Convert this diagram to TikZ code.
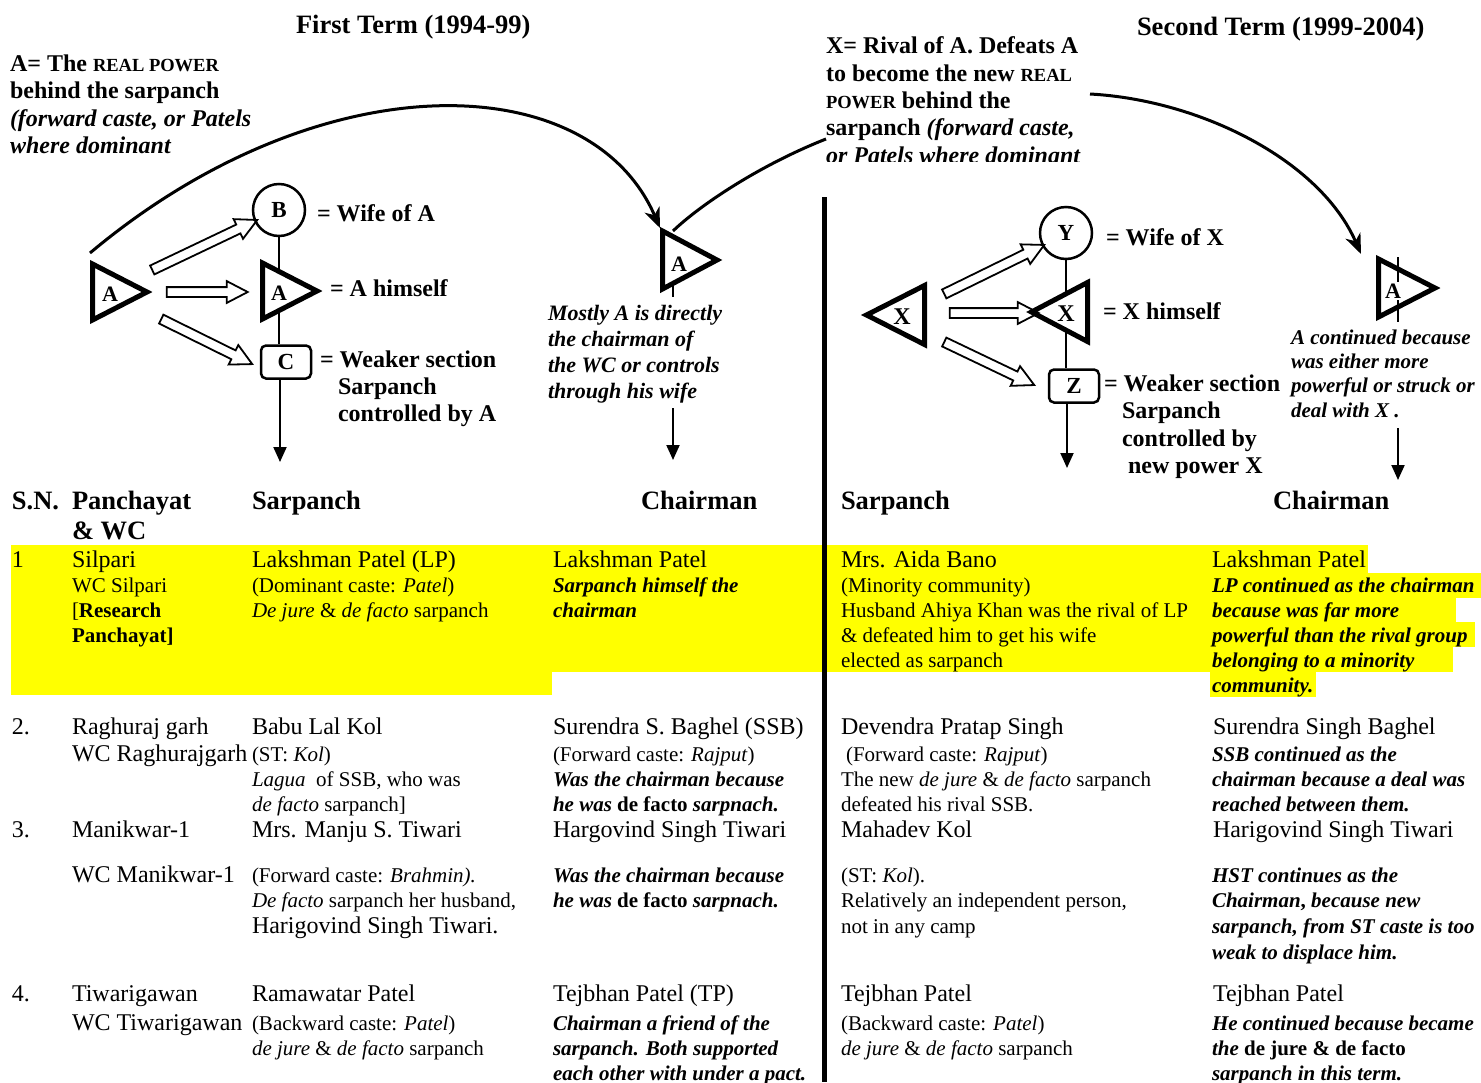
\documentclass[tikz,border=0pt]{standalone}
\usepackage{fontspec}
\setmainfont{Liberation Serif}
\usetikzlibrary{arrows.meta,shapes.arrows,calc}
\definecolor{hl}{RGB}{255,255,0}
\newcommand{\fbig}{\fontsize{24}{27}\selectfont}
\newcommand{\fsm}{\fontsize{21}{24}\selectfont}
\newcommand{\fhd}{\fontsize{26.5}{30}\selectfont\bfseries}
\newcommand{\fdg}{\fontsize{24}{27.5}\selectfont\bfseries}
\newcommand{\fsc}[1]{{\fontsize{18.5}{20}\selectfont #1}}
\newcommand{\myBI}{\bfseries\itshape}
\newcommand{\rtri}[4]{\draw[tri] (#1,#2-#3) -- (#1+#4,#2) -- (#1,#2+#3) -- cycle;}
\newcommand{\harrow}[3]{\path let \p1=(#2), \p2=(#3), \n1={atan2(\y2-\y1,\x2-\x1)}, \n2={veclen(\x2-\x1,\y2-\y1)} in node[hollow,minimum height=\n2,rotate=\n1] (#1) at ($(#2)!0.5!(#3)$) {};}
\begin{document}
\begin{tikzpicture}[x=1pt,y=-1pt,
  tl/.style={anchor=base west,inner sep=0pt,outer sep=0pt},
  tri/.style={line width=5pt,line join=miter,fill=white},
  lab/.style={inner sep=0pt,font=\fontsize{22}{22}\selectfont\bfseries},
  hollow/.style={single arrow,draw,line width=1.8pt,inner xsep=0pt,inner ysep=4pt,single arrow head extend=6pt,single arrow tip angle=55},
  vline/.style={line width=2pt},
  down/.style={line width=2pt,-{Triangle[length=15pt,width=13pt]}},
  curve/.style={line width=3pt},
  curvearr/.style={line width=3pt,-{Stealth[length=20pt,width=16pt,inset=6pt]}},
  ring/.style={circle,draw,line width=2.5pt,minimum size=52pt,inner sep=0pt,fill=white,font=\fontsize{23}{23}\selectfont\bfseries},
  sbox/.style={draw,rounded corners=5pt,line width=2.5pt,minimum width=50pt,minimum height=33pt,inner sep=0pt,fill=white,font=\fontsize{23}{23}\selectfont\bfseries}
]
\useasboundingbox (0,0) rectangle (1481,1082);

% yellow highlights
\fill[hl] (11,545) rectangle (824,672);
\fill[hl] (11,672) rectangle (552,695);
\fill[hl] (824,545) rectangle (1210,672);
\fill[hl] (1210,545) rectangle (1368,573);
\fill[hl] (1210,573) rectangle (1481,598);
\fill[hl] (1210,598) rectangle (1456,622);
\fill[hl] (1210,622) rectangle (1475,647);
\fill[hl] (1210,647) rectangle (1453,672);
\fill[hl] (1210,672) rectangle (1316,697);

% divider
\coordinate (divtop) at (824,197);
\coordinate (divbot) at (824,1082);
\draw[line width=5pt] (divtop) -- (divbot);

% ---------- first term diagram ----------
\node[ring] (B) at (279,210) {B};
\node[sbox] (C) at (286,362) {C};
\draw[vline] (B.south) -- (B.south |- C.north);
\coordinate (Cd) at (280,462);
\draw[down] (C.south -| Cd) -- (Cd);

\rtri{92.5}{292}{28}{54.5}
\node[lab] (Aleft) at (110,294) {A};
\rtri{262.5}{291}{28}{54.5}
\node[lab] (Aself) at (279,293) {A};

\coordinate (h1s) at (148,272); \coordinate (h1e) at (253,222);
\coordinate (h2s) at (162,292); \coordinate (h2e) at (243,292);
\coordinate (h3s) at (157,317); \coordinate (h3e) at (248,362);
\harrow{ha1}{h1s}{h1e}
\harrow{ha2}{h2s}{h2e}
\harrow{ha3}{h3s}{h3e}

% chairman A (first term)
\coordinate (A1low) at (673,297);
\draw[vline] (673,280) -- (A1low);
\rtri{662.5}{260}{29}{54.5}
\node[lab] (Achair) at (679,264) {A};
\coordinate (A1d1) at (673,408);
\coordinate (A1d2) at (673,460);
\draw[down] (A1d1) -- (A1d2);

% ---------- second term diagram ----------
\node[ring] (Y) at (1066,233) {Y};
\node[sbox] (Z) at (1074,386) {Z};
\draw[vline] (Y.south) -- (Y.south |- Z.north);
\coordinate (Zd) at (1067,468);
\draw[down] (Z.south -| Zd) -- (Zd);

\rtri{924.5}{315}{29.5}{-58}
\node[lab,font=\fontsize{24}{24}\selectfont\bfseries] (Xleft) at (902,317) {X};
\rtri{1087.5}{312}{29.5}{-56}
\node[lab,font=\fontsize{24}{24}\selectfont\bfseries] (Xself) at (1066,314) {X};

\coordinate (k1s) at (940,296); \coordinate (k1e) at (1040,247);
\coordinate (k2s) at (945,313); \coordinate (k2e) at (1034,313);
\coordinate (k3s) at (940,340); \coordinate (k3e) at (1030,383);
\harrow{xa1}{k1s}{k1e}
\harrow{xa2}{k2s}{k2e}
\harrow{xa3}{k3s}{k3e}

% chairman A (second term)
\rtri{1378.5}{288}{29}{56.5}
\coordinate (A2t) at (1398,257);
\coordinate (A2b) at (1398,322);
\draw[vline] (A2t) -- (A2b);
\node[lab,fill=white,inner sep=2pt] (Achair2) at (1393,291) {A};
\coordinate (A2d1) at (1398,428);
\coordinate (A2d2) at (1398,480);
\draw[down] (A2d1) -- (A2d2);

% ---------- curves ----------
\coordinate (c1s) at (90,253);
\coordinate (c1e) at (660,228);
\draw[curvearr] (c1s) .. controls (320,60) and (590,66) .. (c1e);
\coordinate (c2s) at (673,231);
\coordinate (c2e) at (826,139);
\draw[curve] (c2s) .. controls (700,205) and (760,165) .. (c2e);
\coordinate (c3s) at (1090,94);
\coordinate (c3e) at (1361,254);
\draw[curvearr] (c3s) .. controls (1200,100) and (1320,160) .. (c3e);

% ---------- titles ----------
\node[tl] (title1) at (296,33) {\fhd First Term (1994-99)};
\node[tl] (title2) at (1137,35) {\fhd Second Term (1999-2004)};

% A definition
\node[tl] (ad1) at (10,71) {\fdg A= The \fsc{REAL POWER}};
\node[tl] (ad2) at (10,98) {\fdg behind the sarpanch};
\node[tl] (ad3) at (10,126) {\fdg\itshape (forward caste, or Patels};
\node[tl] (ad4) at (10,153) {\fdg\itshape where dominant};

% X definition (clipped last line)
\begin{scope}
\clip (800,0) rectangle (1110,161);
\node[tl] (xd1) at (826,53) {\fdg X= Rival of A. Defeats A};
\node[tl] (xd2) at (826,81) {\fdg to become the new \fsc{REAL}};
\node[tl] (xd3) at (826,108) {\fdg \fsc{POWER} behind the};
\node[tl] (xd4) at (826,135) {\fdg sarpanch \itshape (forward caste,};
\node[tl] (xd5) at (826,163) {\fdg\itshape or Patels where dominant};
\end{scope}

% diagram labels, first term
\node[tl] (lb1) at (317,221) {\fdg = Wife of A};
\node[tl] (lb2) at (330,296) {\fdg = A himself};
\node[tl] (lb3) at (320,367) {\fdg = Weaker section};
\node[tl] (lb4) at (338,394) {\fdg Sarpanch};
\node[tl] (lb5) at (338,421) {\fdg controlled by A};
\node[tl] (ms1) at (548,320) {\fontsize{22}{26}\selectfont\myBI Mostly A is directly};
\node[tl] (ms2) at (548,346) {\fontsize{22}{26}\selectfont\myBI the chairman of};
\node[tl] (ms3) at (548,372) {\fontsize{22}{26}\selectfont\myBI the WC or controls};
\node[tl] (ms4) at (548,398) {\fontsize{22}{26}\selectfont\myBI through his wife};

% diagram labels, second term
\node[tl] (lc1) at (1106,245) {\fdg = Wife of X};
\node[tl] (lc2) at (1103,319) {\fdg = X himself};
\node[tl] (lc3) at (1104,391) {\fdg = Weaker section};
\node[tl] (lc4) at (1122,418) {\fdg Sarpanch};
\node[tl] (lc5) at (1122,446) {\fdg controlled by};
\node[tl] (lc6) at (1128,473) {\fdg new power X};
\node[tl] (ac1) at (1291,344) {\fsm\myBI A continued because};
\node[tl] (ac2) at (1291,368) {\fsm\myBI was either more};
\node[tl] (ac3) at (1291,392) {\fsm\myBI powerful or struck or};
\node[tl] (ac4) at (1291,417) {\fsm\myBI deal with X .};

% ---------- table headers ----------
\node[tl] (hd1) at (12,509) {\fhd S.N.};
\node[tl] (hd2) at (72,509) {\fhd Panchayat};
\node[tl] (hd3) at (72,539) {\fhd \& WC};
\node[tl] (hd4) at (252,509) {\fhd Sarpanch};
\node[tl] (hd5) at (641,509) {\fhd Chairman};
\node[tl] (hd6) at (841,509) {\fhd Sarpanch};
\node[tl] (hd7) at (1273,509) {\fhd Chairman};

% ---------- row 1 ----------
\node[tl] (r1a) at (12,567) {\fbig 1};
\node[tl] (r1b1) at (72,567) {\fbig Silpari};
\node[tl] (r1b2) at (72,592) {\fsm WC Silpari};
\node[tl] (r1b3) at (72,617) {\fsm [\textbf{Research}};
\node[tl] (r1b4) at (72,642) {\fsm\bfseries Panchayat]};
\node[tl] (r1c1) at (252,567) {\fbig Lakshman Patel (LP)};
\node[tl] (r1c2) at (252,592) {\fsm (Dominant caste: \textit{Patel})};
\node[tl] (r1c3) at (252,617) {\fsm \textit{De jure} \& \textit{de facto} sarpanch};
\node[tl] (r1d1) at (553,567) {\fbig Lakshman Patel};
\node[tl] (r1d2) at (553,592) {\fsm\myBI Sarpanch himself the};
\node[tl] (r1d3) at (553,617) {\fsm\myBI chairman};
\node[tl] (r1e1) at (841,567) {\fbig Mrs. Aida Bano};
\node[tl] (r1e2) at (841,592) {\fsm (Minority community)};
\node[tl] (r1e3) at (841,617) {\fsm Husband Ahiya Khan was the rival of LP};
\node[tl] (r1e4) at (841,642) {\fsm \& defeated him to get his wife};
\node[tl] (r1e5) at (841,667) {\fsm elected as sarpanch};
\node[tl] (r1f1) at (1212,567) {\fbig Lakshman Patel};
\node[tl] (r1f2) at (1212,592) {\fsm\myBI LP continued as the chairman};
\node[tl] (r1f3) at (1212,617) {\fsm\myBI because was far more};
\node[tl] (r1f4) at (1212,642) {\fsm\myBI powerful than the rival group};
\node[tl] (r1f5) at (1212,667) {\fsm\myBI belonging to a minority};
\node[tl] (r1f6) at (1212,692) {\fsm\myBI community.};

% ---------- row 2 ----------
\node[tl] (r2a) at (12,734) {\fbig 2.};
\node[tl] (r2b1) at (72,734) {\fbig Raghuraj garh};
\node[tl] (r2b2) at (72,761) {\fbig WC Raghurajgarh};
\node[tl] (r2c1) at (252,734) {\fbig Babu Lal Kol};
\node[tl] (r2c2) at (252,761) {\fsm (ST: \textit{Kol})};
\node[tl] (r2c3) at (252,786) {\fsm \textit{Lagua}\ \ of SSB, who was};
\node[tl] (r2c4) at (252,811) {\fsm \textit{de facto} sarpanch]};
\node[tl] (r2d1) at (553,734) {\fbig Surendra S. Baghel (SSB)};
\node[tl] (r2d2) at (553,761) {\fsm (Forward caste: \textit{Rajput})};
\node[tl] (r2d3) at (553,786) {\fsm\myBI Was the chairman because};
\node[tl] (r2d4) at (553,811) {\fsm\myBI he was {\upshape de facto} sarpnach.};
\node[tl] (r2e1) at (841,734) {\fbig Devendra Pratap Singh};
\node[tl] (r2e2) at (846,761) {\fsm (Forward caste: \textit{Rajput})};
\node[tl] (r2e3) at (841,786) {\fsm The new \textit{de jure} \& \textit{de facto} sarpanch};
\node[tl] (r2e4) at (841,811) {\fsm defeated his rival SSB.};
\node[tl] (r2f1) at (1213,734) {\fbig Surendra Singh Baghel};
\node[tl] (r2f2) at (1212,761) {\fsm\myBI SSB continued as the};
\node[tl] (r2f3) at (1212,786) {\fsm\myBI chairman because a deal was};
\node[tl] (r2f4) at (1212,811) {\fsm\myBI reached between them.};

% ---------- row 3 ----------
\node[tl] (r3a) at (12,837) {\fbig 3.};
\node[tl] (r3b1) at (72,837) {\fbig Manikwar-1};
\node[tl] (r3b2) at (72,882) {\fbig WC Manikwar-1};
\node[tl] (r3c1) at (252,837) {\fbig Mrs. Manju S. Tiwari};
\node[tl] (r3c2) at (252,882) {\fsm (Forward caste: \textit{Brahmin).}};
\node[tl] (r3c3) at (252,907) {\fsm \textit{De facto} sarpanch her husband,};
\node[tl] (r3c4) at (252,933) {\fbig Harigovind Singh Tiwari.};
\node[tl] (r3d1) at (553,837) {\fbig Hargovind Singh Tiwari};
\node[tl] (r3d2) at (553,882) {\fsm\myBI Was the chairman because};
\node[tl] (r3d3) at (553,907) {\fsm\myBI he was {\upshape de facto} sarpnach.};
\node[tl] (r3e1) at (841,837) {\fbig Mahadev Kol};
\node[tl] (r3e2) at (841,882) {\fsm (ST: \textit{Kol}).};
\node[tl] (r3e3) at (841,907) {\fsm Relatively an independent person,};
\node[tl] (r3e4) at (841,933) {\fsm not in any camp};
\node[tl] (r3f1) at (1213,837) {\fbig Harigovind Singh Tiwari};
\node[tl] (r3f2) at (1212,882) {\fsm\myBI HST continues as the};
\node[tl] (r3f3) at (1212,907) {\fsm\myBI Chairman{\upshape ,} because new};
\node[tl] (r3f4) at (1212,933) {\fsm\myBI sarpanch, from ST caste is too};
\node[tl] (r3f5) at (1212,959) {\fsm\myBI weak to displace him.};

% ---------- row 4 ----------
\node[tl] (r4a) at (12,1001) {\fbig 4.};
\node[tl] (r4b1) at (72,1001) {\fbig Tiwarigawan};
\node[tl] (r4b2) at (72,1030) {\fbig WC Tiwarigawan};
\node[tl] (r4c1) at (252,1001) {\fbig Ramawatar Patel};
\node[tl] (r4c2) at (252,1030) {\fsm (Backward caste: \textit{Patel})};
\node[tl] (r4c3) at (252,1055) {\fsm \textit{de jure} \& \textit{de facto} sarpanch};
\node[tl] (r4d1) at (553,1001) {\fbig Tejbhan Patel (TP)};
\node[tl] (r4d2) at (553,1030) {\fsm\myBI Chairman a friend of the};
\node[tl] (r4d3) at (553,1055) {\fsm\myBI sarpanch. Both supported};
\node[tl] (r4d4) at (553,1080) {\fsm\myBI each other with under a pact.};
\node[tl] (r4e1) at (841,1001) {\fbig Tejbhan Patel};
\node[tl] (r4e2) at (841,1030) {\fsm (Backward caste: \textit{Patel})};
\node[tl] (r4e3) at (841,1055) {\fsm \textit{de jure} \& \textit{de facto} sarpanch};
\node[tl] (r4f1) at (1213,1001) {\fbig Tejbhan Patel};
\node[tl] (r4f2) at (1212,1030) {\fsm\myBI He continued because became};
\node[tl] (r4f3) at (1212,1055) {\fsm\myBI the {\upshape de jure \& de facto}};
\node[tl] (r4f4) at (1212,1080) {\fsm\myBI sarpanch in this term.};
\end{tikzpicture}
\end{document}
